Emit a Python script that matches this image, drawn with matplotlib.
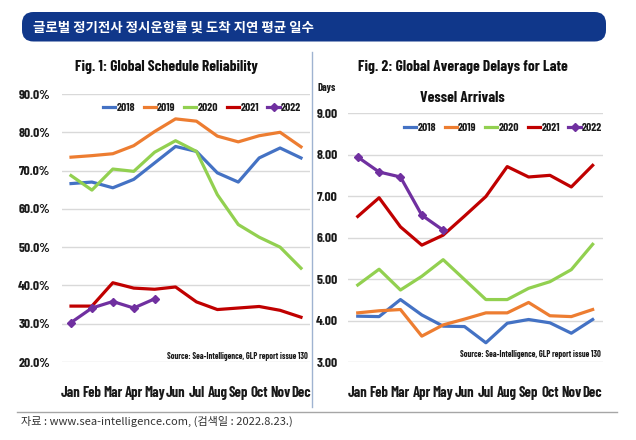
import matplotlib
matplotlib.use("Agg")
import matplotlib.pyplot as plt
from matplotlib.patches import FancyBboxPatch
from matplotlib.lines import Line2D

months = ["Jan", "Feb", "Mar", "Apr", "May", "Jun", "Jul", "Aug", "Sep", "Oct", "Nov", "Dec"]
years = ["2018", "2019", "2020", "2021", "2022"]

# Fig. 1: Global Schedule Reliability (%)
rel_2018 = [66.6, 67.0, 65.5, 67.7, 72.0, 76.3, 75.0, 69.4, 67.0, 73.3, 75.9, 73.3]
rel_2019 = [73.5, 73.9, 74.4, 76.5, 80.2, 83.5, 82.9, 79.0, 77.5, 79.1, 80.0, 76.2]
rel_2020 = [68.7, 64.9, 70.4, 69.8, 74.8, 77.8, 75.0, 63.7, 55.9, 52.6, 50.0, 44.5]
rel_2021 = [34.6, 34.6, 40.7, 39.3, 39.0, 39.6, 35.7, 33.7, 34.1, 34.5, 33.5, 31.7]
rel_2022 = [30.3, 34.1, 35.8, 34.1, 36.5]
rel_ticks = [20, 30, 40, 50, 60, 70, 80, 90]

# Fig. 2: Global Average Delays for Late Vessel Arrivals (days)
del_2018 = [4.11, 4.10, 4.51, 4.14, 3.87, 3.86, 3.47, 3.94, 4.03, 3.95, 3.70, 4.03]
del_2019 = [4.19, 4.24, 4.27, 3.63, 3.90, 4.04, 4.19, 4.19, 4.44, 4.12, 4.10, 4.27]
del_2020 = [4.86, 5.24, 4.74, 5.07, 5.47, 4.99, 4.51, 4.51, 4.78, 4.94, 5.23, 5.84]
del_2021 = [6.51, 6.96, 6.26, 5.82, 6.06, 6.52, 6.99, 7.71, 7.46, 7.50, 7.22, 7.74]
del_2022 = [7.94, 7.58, 7.46, 6.54, 6.18]
del_ticks = [3, 4, 5, 6, 7, 8, 9]

colors = ["#4472C4", "#ED7D31", "#92D050", "#C00000", "#7030A0"]

W, H = 636, 440
fig = plt.figure(figsize=(W / 100, H / 100), dpi=100)
fig.patch.set_facecolor("white")

NARROW = ["Barlow Condensed", "Archivo Narrow", "Liberation Sans"]
KR = ["Noto Sans CJK KR", "DejaVu Sans"]
TXT = "#1a1a1a"
WT = "bold"

def fx(px):
    return px / W

def fy(py):
    return 1 - py / H

# header bar
bar = FancyBboxPatch((fx(22), fy(41.5)), fx(606) - fx(22), fy(12) - fy(41.5),
                     boxstyle="round,pad=0,rounding_size=0.018",
                     transform=fig.transFigure, facecolor="#10378A", edgecolor="none",
                     mutation_aspect=W / H)
fig.patches.append(bar)
fig.text(fx(33), fy(27.5), "글로벌 정기전사 정시운항률 및 도착 지연 평균 일수",
         family=KR, fontsize=9.7, color="white", weight="bold", va="center", ha="left")

# divider lines
fig.add_artist(Line2D([fx(312), fx(312)], [fy(52), fy(407)], transform=fig.transFigure,
                      color="#9fb3d1", lw=1))
fig.add_artist(Line2D([fx(17), fx(617)], [fy(412), fy(412)], transform=fig.transFigure,
                      color="#a6a6a6", lw=1))
fig.text(fx(21), fy(421), "자료 : www.sea-intelligence.com, (검색일 : 2022.8.23.)",
         family=KR, fontsize=8, color="#333333", va="center", ha="left")


def style_axes(ax, ticks, fmt, xlim, ylim, ypad, ysize):
    ax.set_xlim(*xlim)
    ax.set_ylim(*ylim)
    ax.set_yticks(ticks)
    ax.set_yticklabels([fmt(t) for t in ticks], family=NARROW, fontsize=ysize, weight=WT,
                       color=TXT)
    ax.set_xticks(range(12))
    ax.set_xticklabels(months, family=NARROW, fontsize=10.5, weight=WT, color=TXT)
    ax.tick_params(axis="both", length=0)
    ax.tick_params(axis="x", pad=17)
    ax.tick_params(axis="y", pad=ypad)
    for s in ax.spines.values():
        s.set_visible(False)
    ax.grid(axis="y", color="#d9d9d9", lw=1)
    ax.set_axisbelow(True)


def draw(ax, series, legend_anchor):
    handles = []
    for i, (yr, vals) in enumerate(zip(years, series)):
        if yr == "2022":
            h, = ax.plot(range(len(vals)), vals, color=colors[i], lw=2.3, marker="D",
                         markersize=4.5, clip_on=False, zorder=5, label=yr)
        else:
            h, = ax.plot(range(len(vals)), vals, color=colors[i], lw=2.3, clip_on=False,
                         zorder=3 + i * 0.1, label=yr)
        handles.append(h)
    leg = ax.legend(handles=handles, loc="center", bbox_to_anchor=legend_anchor,
                    bbox_transform=fig.transFigure, ncol=5, frameon=False,
                    prop={"family": NARROW, "size": 8.3, "weight": WT},
                    handlelength=1.05, handletextpad=0.12, columnspacing=0.75,
                    borderpad=0, borderaxespad=0)
    for t in leg.get_texts():
        t.set_color(TXT)


# left chart
ax1 = fig.add_axes([fx(61.6), fy(362), fx(310.4) - fx(61.6), fy(94) - fy(362)])
style_axes(ax1, rel_ticks, lambda t: f"{t:.1f}%", (-0.45, 11.45), (20, 90), 8, 9.8)
draw(ax1, [rel_2018, rel_2019, rel_2020, rel_2021, rel_2022], (fx(202), fy(108)))
fig.text(fx(166), fy(67), "Fig. 1: Global Schedule Reliability", family=NARROW,
         fontsize=11.2, weight=WT, ha="center", va="center", color="#111111")
fig.text(fx(308), fy(356.5), "Source: Sea-Intelligence, GLP report issue 130", family=NARROW,
         fontsize=6.1, weight=WT, ha="right", va="center", color=TXT)

# right chart
ax2 = fig.add_axes([fx(347.7), fy(362.3), fx(602.7) - fx(347.7), fy(113) - fy(362.3)])
style_axes(ax2, del_ticks, lambda t: f"{t:.2f}", (-0.47, 11.47), (3, 9), 7, 9.8)
draw(ax2, [del_2018, del_2019, del_2020, del_2021, del_2022], (fx(503), fy(128.3)))
fig.text(fx(463), fy(67), "Fig. 2: Global Average Delays for Late", family=NARROW,
         fontsize=11.2, weight=WT, ha="center", va="center", color="#111111")
fig.text(fx(462), fy(97.5), "Vessel Arrivals", family=NARROW,
         fontsize=11.2, weight=WT, ha="center", va="center", color="#111111")
fig.text(fx(317), fy(88), "Days", family=NARROW, fontsize=7.5, weight=WT,
         ha="left", va="center", color=TXT)
fig.text(fx(601), fy(354.3), "Source: Sea-Intelligence, GLP report issue 130", family=NARROW,
         fontsize=6.1, weight=WT, ha="right", va="center", color=TXT)

fig.savefig("out.png", dpi=100, facecolor="white")
